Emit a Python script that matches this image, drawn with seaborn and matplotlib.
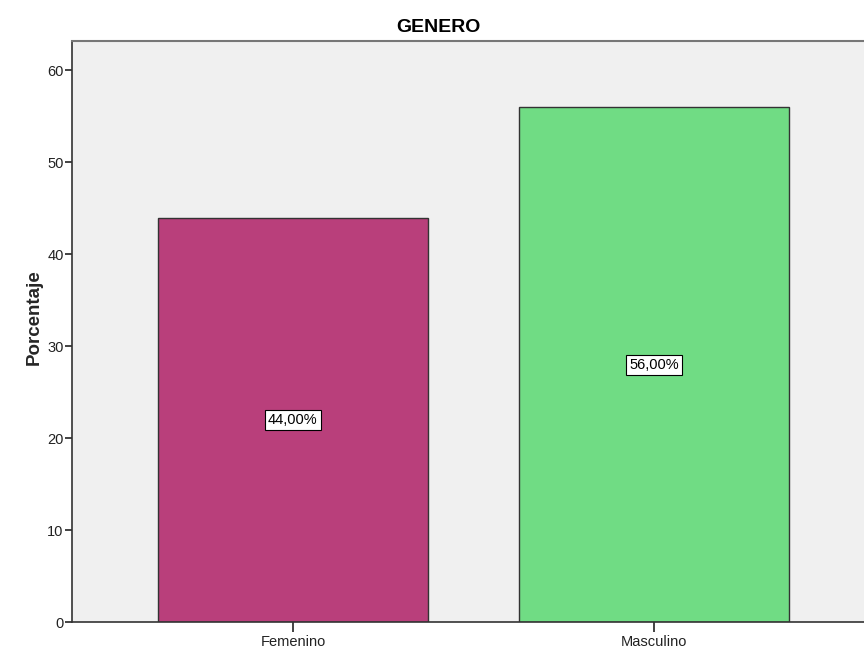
import matplotlib
matplotlib.use("Agg")
import matplotlib.pyplot as plt
import seaborn as sns
import pandas as pd

categories = ["Femenino", "Masculino"]
percentages = [44.0, 56.0]
labels = ["44,00%", "56,00%"]
colors = ["#B93F7B", "#70DC84"]

sns.set_theme(style="white")
plt.rcParams["font.family"] = ["Liberation Sans", "DejaVu Sans"]

df = pd.DataFrame({"GENERO": categories, "Porcentaje": percentages})

fig = plt.figure(figsize=(8.64, 6.5), dpi=100)
ax = fig.add_axes([72 / 864, 1 - 622 / 650, 1 - 72 / 864, (622 - 41) / 650])
ax.set_facecolor("#F0F0F0")

sns.barplot(data=df, x="GENERO", y="Porcentaje", hue="GENERO", palette=colors,
            saturation=1, width=0.75, edgecolor="#333333", linewidth=1.0,
            legend=False, ax=ax)

for i, (v, lab) in enumerate(zip(percentages, labels)):
    ax.text(i, v / 2, lab, ha="center", va="center", fontsize=10.5, color="black",
            bbox=dict(boxstyle="square,pad=0.2", facecolor="white", edgecolor="black", linewidth=0.8))

ax.set_xlim(-0.612, 1.582)
ax.set_ylim(0, 63.2)
ax.set_yticks([0, 10, 20, 30, 40, 50, 60])
ax.set_xlabel("")
ax.set_ylabel("Porcentaje", fontsize=13.5, fontweight="bold")
ax.yaxis.set_label_coords(-0.037, 0.525)
fig.text(438 / 864, 1 - 27 / 650, "GENERO", ha="center", va="center",
         fontsize=14, fontweight="bold", color="black")

ax.tick_params(axis="y", direction="out", length=5, width=1.2, color="#222222",
               labelsize=10.5, pad=1, left=True, labelcolor="#222222")
ax.tick_params(axis="x", direction="out", length=7, width=1.2, color="#222222",
               labelsize=10.5, pad=2, bottom=True, labelcolor="#222222")

for s in ["left", "bottom"]:
    ax.spines[s].set_color("#333333")
    ax.spines[s].set_linewidth(1.2)
ax.spines["top"].set_color("#777777")
ax.spines["top"].set_linewidth(1.5)
ax.spines["right"].set_visible(False)

fig.savefig("out.png", dpi=100)
